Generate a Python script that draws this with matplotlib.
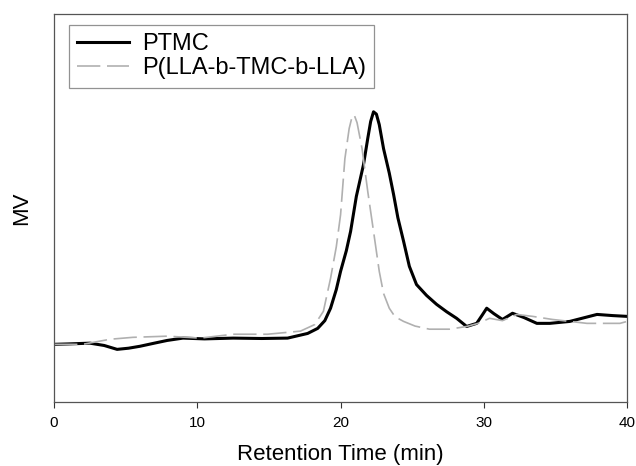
import matplotlib
matplotlib.use('Agg')
import matplotlib.pyplot as plt

# PTMC trace (retention time in min, detector signal in arbitrary MV units)
ptmc_time = [0, 1.0, 2.5, 3.5, 4.4, 5.2, 6.0, 7.0, 7.9, 9.0, 10.5, 12.5, 14.5, 16.3,
             17.7, 18.4, 18.9, 19.3, 19.7, 20.0, 20.4, 20.7, 21.1, 21.6, 21.9, 22.1,
             22.3, 22.5, 22.7, 23.0, 23.4, 23.7, 24.0, 24.4, 24.8, 25.3, 26.0, 26.7,
             27.4, 28.1, 28.8, 29.5, 29.9, 30.2, 30.7, 31.3, 32.0, 32.8, 33.7, 34.6,
             36.0, 37.9, 39.0, 40.0]
ptmc_mv = [14.9, 15.0, 15.2, 14.6, 13.6, 13.9, 14.4, 15.2, 15.9, 16.5, 16.3, 16.5,
           16.4, 16.5, 17.7, 19.0, 21.0, 24.2, 29.0, 33.7, 39.0, 44.0, 53.0, 61.2,
           68.0, 72.3, 74.8, 74.2, 71.5, 65.3, 59.0, 53.5, 47.5, 41.4, 35.0, 30.3,
           27.5, 25.2, 23.3, 21.6, 19.5, 20.3, 22.5, 24.2, 22.8, 21.3, 22.9, 21.8,
           20.3, 20.3, 20.8, 22.6, 22.3, 22.1]

# P(LLA-b-TMC-b-LLA) trace
copo_time = [0, 2.0, 3.9, 5.5, 7.9, 10.2, 12.5, 14.9, 17.2, 18.2, 18.8, 19.3, 19.7,
             20.0, 20.3, 20.6, 20.8, 20.95, 21.15, 21.5, 21.9, 22.3, 22.7, 23.0, 23.4,
             23.8, 24.4, 25.2, 26.2, 27.6, 28.8, 29.6, 30.4, 31.3, 32.3, 33.4, 34.8,
             37.2, 39.5, 40.0]
copo_mv = [14.9, 14.9, 16.2, 16.7, 17.0, 16.5, 17.5, 17.5, 18.3, 20.0, 23.4, 31.9,
           40.0, 48.3, 62.7, 70.5, 73.5, 74.0, 72.0, 65.3, 54.2, 44.0, 33.7, 28.0,
           24.2, 22.0, 20.8, 19.6, 18.8, 18.8, 19.5, 20.3, 21.6, 21.0, 22.6, 22.1,
           21.3, 20.3, 20.3, 20.8]

x_ticks = [0, 10, 20, 30, 40]

plt.rcParams['font.family'] = ['Liberation Sans', 'DejaVu Sans']

fig = plt.figure(figsize=(6.36, 4.66), dpi=100)
ax = fig.add_axes([0.085, 0.137, 0.901, 0.833])

ax.plot(ptmc_time, ptmc_mv, color="black", linewidth=2.2, label="PTMC")
ax.plot(copo_time, copo_mv, color="#b0b0b0", linewidth=1.2,
        dashes=(14, 4), label="P(LLA-b-TMC-b-LLA)")

ax.set_xlim(0, 40)
ax.set_ylim(0, 100)
ax.set_xticks(x_ticks)
ax.set_xticklabels([str(t) for t in x_ticks], fontsize=11)
ax.set_yticks([])
ax.tick_params(axis="x", direction="out", length=4, width=0.8, colors="#333333",
               labelcolor="black", pad=6)

for side in ["top", "bottom", "left", "right"]:
    ax.spines[side].set_color("#555555")
    ax.spines[side].set_linewidth(0.9)

ax.set_xlabel("Retention Time (min)", fontsize=16, labelpad=10)
ax.set_ylabel("MV", fontsize=16, labelpad=16)

leg = ax.legend(loc="upper left", bbox_to_anchor=(0.026, 0.972), borderaxespad=0,
                fontsize=17, handlelength=2.2, handletextpad=0.55, labelspacing=0.1,
                borderpad=0.35, fancybox=False, frameon=True)
leg.get_frame().set_edgecolor("#777777")
leg.get_frame().set_linewidth(0.9)

plt.savefig("out.png", dpi=100)
plt.close()
